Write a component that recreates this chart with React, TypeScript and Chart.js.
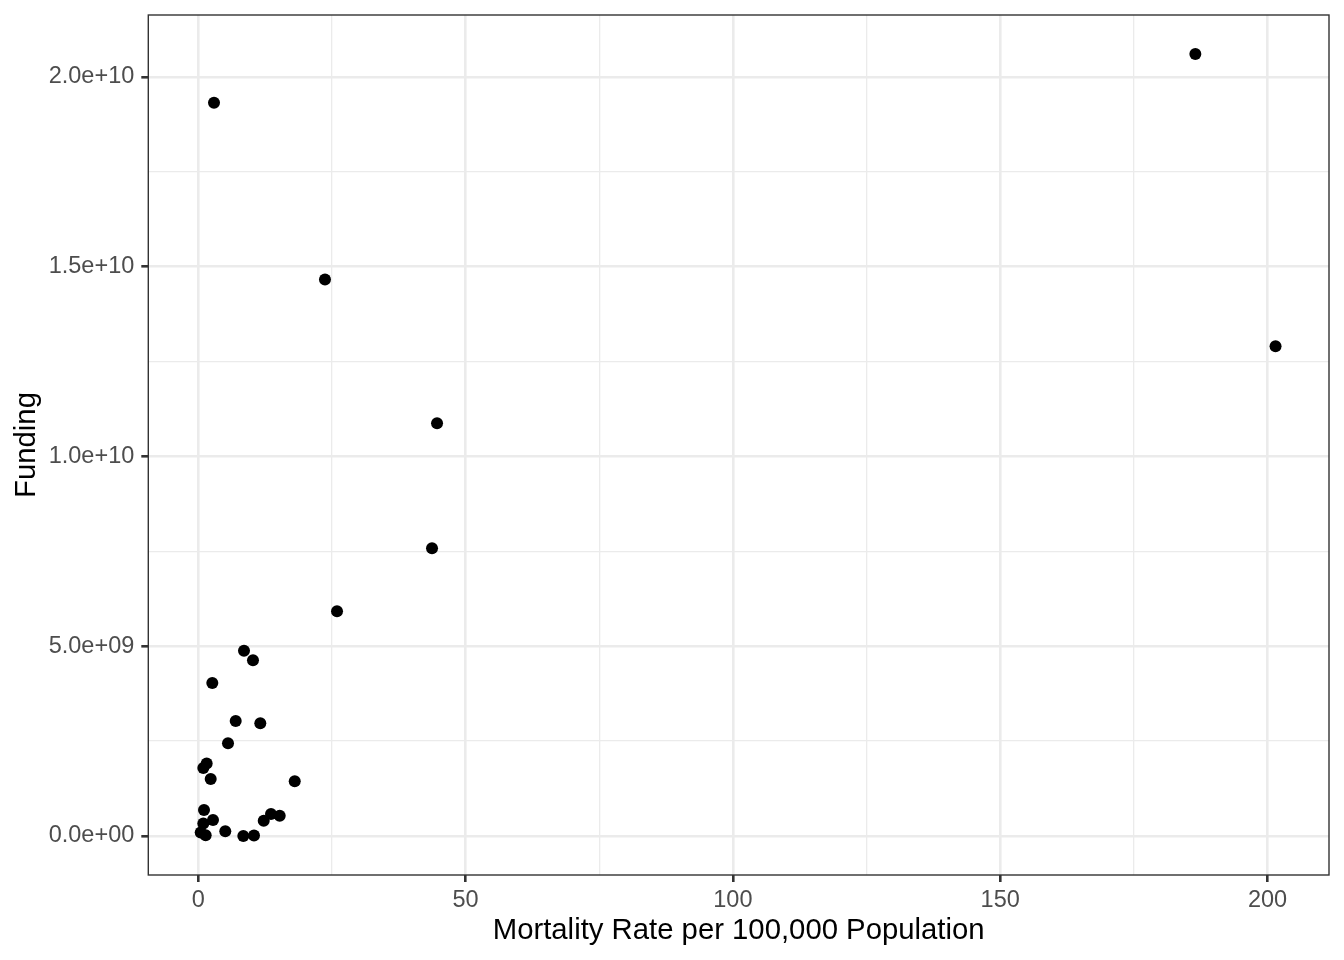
import React, { useEffect, useRef } from "react";
import { Chart, registerables } from "chart.js";

Chart.register(...registerables);

// Mortality rate per 100,000 population (x) and funding (y)
const mortalityRate = [
  2.94, 23.7, 44.66, 43.72, 25.95, 186.5, 201.5, 8.55, 10.23, 2.62, 7.0, 11.6, 5.56, 1.57,
  0.94, 2.32, 18.04, 1.07, 2.75, 0.94, 0.45, 1.38, 5.05, 8.42, 10.42, 12.24, 13.6, 15.23,
];
const funding = [
  19.32e9, 14.66e9, 10.87e9, 7.58e9, 5.92e9, 20.6e9, 12.9e9, 4.88e9, 4.63e9, 4.03e9, 3.03e9,
  2.97e9, 2.44e9, 1.91e9, 1.79e9, 1.5e9, 1.44e9, 0.68e9, 0.42e9, 0.33e9, 0.09e9, 0.02e9,
  0.12e9, 0.0, 0.01e9, 0.4e9, 0.58e9, 0.53e9,
];

const xMajorTicks = [0, 50, 100, 150, 200];
const xMajorLabels = ["0", "50", "100", "150", "200"];
const xMinorTicks = [25, 75, 125, 175];
const yMajorTicks = [0, 5e9, 1e10, 1.5e10, 2e10];
const yMajorLabels = ["0.0e+00", "5.0e+09", "1.0e+10", "1.5e+10", "2.0e+10"];
const yMinorTicks = [2.5e9, 7.5e9, 1.25e10, 1.75e10];

const xTitle = "Mortality Rate per 100,000 Population";
const yTitle = "Funding";

const FONT = "'Liberation Sans', Arial, Helvetica, sans-serif";

const borderPlugin = {
  id: "panelBorder",
  afterDraw(chart: any) {
    const { ctx, chartArea } = chart;
    ctx.save();
    ctx.strokeStyle = "#333333";
    ctx.lineWidth = 1.4;
    ctx.strokeRect(chartArea.left, chartArea.top, chartArea.right - chartArea.left, chartArea.bottom - chartArea.top);
    ctx.restore();
  },
};

function isMajor(list: number[], v: number) {
  return list.some((m) => Math.abs(m - v) < 1e-6 * Math.max(1, Math.abs(m)));
}

export default function App() {
  const ref = useRef<HTMLCanvasElement | null>(null);

  useEffect(() => {
    if (!ref.current) return;
    const points = mortalityRate.map((x, i) => ({ x, y: funding[i] }));
    const chart = new Chart(ref.current, {
      type: "scatter",
      data: {
        datasets: [
          {
            data: points,
            backgroundColor: "#000000",
            borderColor: "#000000",
            pointRadius: 6,
            pointBorderWidth: 0,
            pointHoverRadius: 6,
          },
        ],
      },
      plugins: [borderPlugin],
      options: {
        animation: false,
        responsive: false,
        maintainAspectRatio: false,
        layout: { padding: { top: 15, right: 15, left: 0, bottom: 0 } },
        plugins: { legend: { display: false }, tooltip: { enabled: false } },
        scales: {
          x: {
            type: "linear",
            min: -9.35,
            max: 211.5,
            afterBuildTicks: (scale: any) => {
              scale.ticks = [...xMajorTicks, ...xMinorTicks].sort((a, b) => a - b).map((v) => ({ value: v }));
            },
            afterFit: (scale: any) => {
              scale.height = 85;
              scale.paddingLeft = 0;
              scale.paddingRight = 0;
            },
            border: { display: false },
            grid: {
              color: "#ebebeb",
              lineWidth: (c: any) => (isMajor(xMajorTicks, c.tick.value) ? 2.6 : 1.3),
              tickColor: (c: any) => (isMajor(xMajorTicks, c.tick.value) ? "#333333" : "rgba(0,0,0,0)"),
              tickWidth: 2.6,
              tickLength: 7,
              drawTicks: true,
            },
            ticks: {
              autoSkip: false,
              maxRotation: 0,
              padding: 4,
              color: "#4d4d4d",
              font: { family: FONT, size: 23.5 },
              callback: (v: any) => {
                const i = xMajorTicks.findIndex((m) => Math.abs(m - Number(v)) < 1e-9);
                return i >= 0 ? xMajorLabels[i] : "";
              },
            },
            title: {
              display: true,
              text: xTitle,
              color: "#000000",
              font: { family: FONT, size: 29.3 },
              padding: { top: 0, bottom: 12 },
            },
          },
          y: {
            type: "linear",
            min: -1.03e9,
            max: 21.63e9,
            afterBuildTicks: (scale: any) => {
              scale.ticks = [...yMajorTicks, ...yMinorTicks].sort((a, b) => a - b).map((v) => ({ value: v }));
            },
            afterFit: (scale: any) => {
              scale.width = 148.3;
              scale.paddingTop = 0;
              scale.paddingBottom = 0;
            },
            border: { display: false },
            grid: {
              color: "#ebebeb",
              lineWidth: (c: any) => (isMajor(yMajorTicks, c.tick.value) ? 2.6 : 1.3),
              tickColor: (c: any) => (isMajor(yMajorTicks, c.tick.value) ? "#333333" : "rgba(0,0,0,0)"),
              tickWidth: 2.6,
              tickLength: 7,
              drawTicks: true,
            },
            ticks: {
              autoSkip: false,
              padding: 7,
              color: "#4d4d4d",
              font: { family: FONT, size: 23.5 },
              callback: (v: any) => {
                const i = yMajorTicks.findIndex((m) => Math.abs(m - Number(v)) < 1);
                return i >= 0 ? yMajorLabels[i] : "";
              },
            },
            title: {
              display: true,
              text: yTitle,
              color: "#000000",
              font: { family: FONT, size: 29.3 },
              padding: { top: 9, bottom: 0 },
            },
          },
        },
      },
    } as any);
    return () => chart.destroy();
  }, []);

  return (
    <div style={{ position: "fixed", left: 0, top: 0, width: 1344, height: 960, background: "#ffffff" }}>
      <canvas ref={ref} width={1344} height={960} style={{ width: 1344, height: 960, display: "block" }} />
    </div>
  );
}
